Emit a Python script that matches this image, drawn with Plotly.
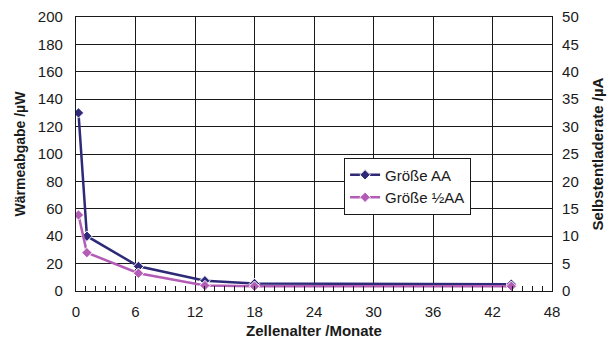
import plotly.graph_objects as go

months = [0.25, 1.1, 6.3, 13.0, 18.0, 43.9]
aa_heat = [130, 40, 18, 7.5, 5.5, 5]
half_aa_heat = [55.5, 28, 13, 4, 3.5, 3.5]
x_ticks = [0, 6, 12, 18, 24, 30, 36, 42, 48]

navy = "#2E2A78"
magenta = "#B35CB5"
font = "Liberation Sans, Arial, sans-serif"
ink = "#1a1a1a"

fig = go.Figure()
fig.add_trace(go.Scatter(
    x=months, y=aa_heat, name="Größe AA", mode="lines+markers",
    line=dict(color=navy, width=2.5),
    marker=dict(symbol="diamond", size=8, color=navy, line=dict(color="white", width=1)),
))
fig.add_trace(go.Scatter(
    x=months, y=half_aa_heat, name="Größe ½AA", mode="lines+markers",
    line=dict(color=magenta, width=2.5),
    marker=dict(symbol="diamond", size=8, color=magenta, line=dict(color="white", width=1)),
))
fig.add_trace(go.Scatter(x=[None], y=[None], yaxis="y2", showlegend=False, hoverinfo="skip"))

axis_common = dict(
    showline=True, linecolor=ink, linewidth=1.2,
    showgrid=True, gridcolor=ink, gridwidth=1,
    zeroline=False, automargin=False,
    tickfont=dict(family=font, size=15, color=ink),
)

fig.update_layout(
    width=612, height=342,
    margin=dict(l=76, r=60, t=17, b=51),
    paper_bgcolor="white", plot_bgcolor="white",
    font=dict(family=font, color=ink),
    xaxis=dict(
        range=[0, 48], tickvals=x_ticks, mirror=True,
        ticks="inside", ticklen=5, tickcolor=ink, ticklabelstandoff=7,
        minor=dict(dtick=1, ticks="inside", ticklen=5, tickcolor=ink, showgrid=False),
        title=dict(text="<b>Zellenalter /Monate</b>", font=dict(family=font, size=15), standoff=6),
        **axis_common,
    ),
    yaxis=dict(
        range=[0, 200], dtick=20, ticks="", ticklabelstandoff=9,
        title=dict(text="<b>Wärmeabgabe /µW</b>", font=dict(family=font, size=14), standoff=8),
        **axis_common,
    ),
    yaxis2=dict(
        range=[0, 50], dtick=5, overlaying="y", side="right", showgrid=False,
        showline=True, linecolor=ink, linewidth=1.2, zeroline=False, automargin=False,
        ticklabelstandoff=6,
        tickfont=dict(family=font, size=15, color=ink),
        title=dict(text="<b>Selbstentladerate /µA</b>", font=dict(family=font, size=15), standoff=14),
    ),
    legend=dict(
        x=0.83, y=0.487, xanchor="right", yanchor="top",
        bgcolor="white", bordercolor=ink, borderwidth=1,
        font=dict(family=font, size=15, color=ink),
        tracegroupgap=0, itemwidth=30,
    ),
    showlegend=True,
)

fig.write_html(
    "out.html",
    config={"displayModeBar": False},
    post_script="document.body.style.margin='0';document.body.style.overflow='hidden';",
)
